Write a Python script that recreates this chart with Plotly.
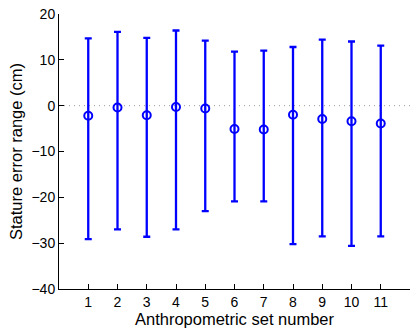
import plotly.graph_objects as go

sets = list(range(1, 12))
centers = [-2.2, -0.4, -2.1, -0.3, -0.6, -5.1, -5.2, -2.0, -2.9, -3.4, -3.9]
upper = [14.7, 16.1, 14.8, 16.4, 14.2, 11.8, 12.0, 12.8, 14.4, 14.0, 13.1]
lower = [-29.1, -27.0, -28.6, -27.0, -23.0, -20.9, -20.9, -30.2, -28.5, -30.6, -28.5]
y_ticks = [-40, -30, -20, -10, 0, 10, 20]

err_plus = [u - c for u, c in zip(upper, centers)]
err_minus = [c - l for c, l in zip(centers, lower)]

fig = go.Figure()
fig.add_shape(type="line", x0=0, x1=12, y0=0, y1=0, xref="x", yref="y",
              line=dict(color="#999999", width=1, dash="1px,4px"), layer="below")
fig.add_trace(go.Scatter(
    x=sets, y=centers, mode="markers",
    marker=dict(symbol="circle-open", size=8, color="#0000ff", line=dict(width=2, color="#0000ff")),
    error_y=dict(type="data", symmetric=False, array=err_plus, arrayminus=err_minus,
                 color="#0000ff", thickness=2.3, width=3.5),
    showlegend=False, hoverinfo="skip",
))

fig.update_layout(
    width=410, height=331,
    margin=dict(l=59, r=0, t=14, b=42),
    paper_bgcolor="white", plot_bgcolor="white",
    font=dict(family="Liberation Sans, Arial, sans-serif", size=14, color="black"),
    xaxis=dict(range=[0, 12], tickvals=sets,
               ticks="inside", ticklen=5, tickcolor="black", showgrid=False, zeroline=False,
               showline=True, linecolor="black", linewidth=1, automargin=False,
               tickfont=dict(size=14),
               title=dict(text="Anthropometric set number", font=dict(size=16.5), standoff=0)),
    yaxis=dict(range=[-40, 20], tickvals=y_ticks,
               ticks="inside", ticklen=5, tickcolor="black",
               showgrid=False, zeroline=False, showline=True, linecolor="black", linewidth=1,
               automargin=False, tickfont=dict(size=14), ticklabeloverflow="allow",
               title=dict(text="Stature error range (cm)", font=dict(size=16.5), standoff=4)),
)
fig.write_html("out.html", config={"displayModeBar": False},
               post_script="document.body.style.margin='0px';")
